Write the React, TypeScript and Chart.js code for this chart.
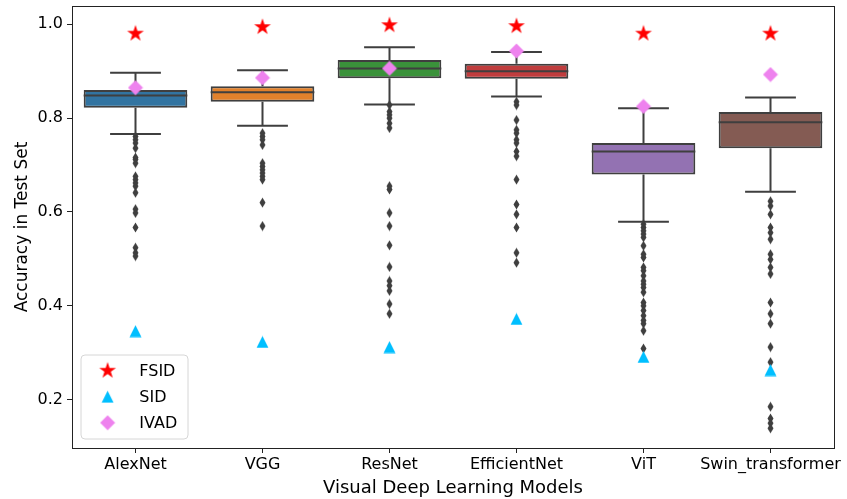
import React, { useEffect, useRef } from 'react';
import { Chart, registerables } from 'chart.js';

Chart.register(...registerables);

const CATEGORIES = ['AlexNet', 'VGG', 'ResNet', 'EfficientNet', 'ViT', 'Swin_transformer'];
const BOX_COLORS = ['#3274a1', '#e1812c', '#3a923a', '#c03d3e', '#9372b2', '#845b53'];
const Q1 = [0.822, 0.835, 0.885, 0.884, 0.680, 0.736];
const MEDIAN = [0.848, 0.855, 0.906, 0.900, 0.729, 0.791];
const Q3 = [0.860, 0.868, 0.924, 0.916, 0.747, 0.813];
const WHISKER_LOW = [0.766, 0.784, 0.829, 0.846, 0.579, 0.643];
const WHISKER_HIGH = [0.897, 0.902, 0.951, 0.941, 0.821, 0.844];
const FSID = [0.980, 0.994, 0.998, 0.996, 0.980, 0.980];
const SID = [0.346, 0.323, 0.312, 0.372, 0.291, 0.263];
const IVAD = [0.865, 0.886, 0.906, 0.943, 0.825, 0.893];

const OUTLIERS_ALEXNET = [0.761, 0.754, 0.747, 0.736, 0.716, 0.712, 0.704, 0.676, 0.669, 0.662, 0.655, 0.641, 0.606, 0.598, 0.567, 0.524, 0.513, 0.506];
const OUTLIERS_VGG = [0.768, 0.761, 0.754, 0.743, 0.704, 0.697, 0.690, 0.683, 0.676, 0.669, 0.620, 0.570];
const OUTLIERS_RESNET = [0.828, 0.814, 0.807, 0.800, 0.789, 0.779, 0.655, 0.648, 0.598, 0.570, 0.529, 0.483, 0.453, 0.443, 0.432, 0.404, 0.383];
const OUTLIERS_EFFICIENTNET = [0.835, 0.828, 0.796, 0.775, 0.768, 0.754, 0.747, 0.729, 0.719, 0.669, 0.616, 0.595, 0.567, 0.513, 0.492];
const OUTLIERS_VIT = [0.574, 0.567, 0.560, 0.553, 0.546, 0.528, 0.510, 0.503, 0.482, 0.475, 0.464, 0.453, 0.446, 0.439, 0.429, 0.407, 0.400, 0.390, 0.379, 0.369, 0.362, 0.347, 0.309];
const OUTLIERS_SWIN = [0.623, 0.613, 0.595, 0.567, 0.556, 0.542, 0.510, 0.499, 0.482, 0.468, 0.407, 0.383, 0.362, 0.312, 0.280, 0.185, 0.160, 0.150, 0.139];
const OUTLIERS = [OUTLIERS_ALEXNET, OUTLIERS_VGG, OUTLIERS_RESNET, OUTLIERS_EFFICIENTNET, OUTLIERS_VIT, OUTLIERS_SWIN];

const Y_TICKS = [0.2, 0.4, 0.6, 0.8, 1.0];
const Y_MIN = 0.097;
const Y_MAX = 1.039;

const LEGEND_LABELS = ['FSID', 'SID', 'IVAD'];

const EDGE = '#3f3f3f';
const FONT = "'DejaVu Sans', sans-serif";

function makeMarker(w: number, h: number, draw: (g: CanvasRenderingContext2D) => void) {
  const c = document.createElement('canvas');
  c.width = w;
  c.height = h;
  const g = c.getContext('2d')!;
  draw(g);
  return c;
}

function makeStar() {
  return makeMarker(20, 20, (g) => {
    const cx = 10, cy = 10, R = 8.8, r = 8.8 * 0.381966;
    g.beginPath();
    for (let k = 0; k < 10; k++) {
      const ang = -Math.PI / 2 + (k * Math.PI) / 5;
      const rad = k % 2 === 0 ? R : r;
      const px = cx + rad * Math.cos(ang);
      const py = cy + rad * Math.sin(ang);
      if (k === 0) g.moveTo(px, py); else g.lineTo(px, py);
    }
    g.closePath();
    g.fillStyle = '#ff0000';
    g.fill();
  });
}

function makeTriangle() {
  return makeMarker(13, 13, (g) => {
    g.beginPath();
    g.moveTo(6.5, 0.5);
    g.lineTo(12.5, 12.5);
    g.lineTo(0.5, 12.5);
    g.closePath();
    g.fillStyle = '#00bfff';
    g.fill();
  });
}

function makeDiamond() {
  return makeMarker(16, 16, (g) => {
    g.beginPath();
    g.moveTo(8, 0.5);
    g.lineTo(15.5, 8);
    g.lineTo(8, 15.5);
    g.lineTo(0.5, 8);
    g.closePath();
    g.fillStyle = '#ee82ee';
    g.fill();
  });
}

function makeThinDiamond() {
  return makeMarker(7, 11, (g) => {
    g.beginPath();
    g.moveTo(3.5, 0.5);
    g.lineTo(6.5, 5.5);
    g.lineTo(3.5, 10.5);
    g.lineTo(0.5, 5.5);
    g.closePath();
    g.fillStyle = EDGE;
    g.fill();
  });
}

export default function App() {
  const ref = useRef<HTMLCanvasElement | null>(null);

  useEffect(() => {
    if (!ref.current) return;
    const star = makeStar();
    const tri = makeTriangle();
    const dia = makeDiamond();
    const thin = makeThinDiamond();
    const legendMarkers = [star, tri, dia];

    const whiskerPlugin = {
      id: 'whiskers',
      afterDatasetDraw(chart: any, args: any) {
        if (args.index !== 0) return;
        const { ctx, scales } = chart;
        const y = scales.y;
        const meta = chart.getDatasetMeta(0);
        ctx.save();
        ctx.strokeStyle = EDGE;
        ctx.lineWidth = 2;
        CATEGORIES.forEach((_, i) => {
          const bar = meta.data[i];
          const cx = bar.x;
          const half = bar.width / 2;
          const capHalf = (bar.width - 2) / 4;
          const yq1 = y.getPixelForValue(Q1[i]);
          const yq3 = y.getPixelForValue(Q3[i]);
          const ylo = y.getPixelForValue(WHISKER_LOW[i]);
          const yhi = y.getPixelForValue(WHISKER_HIGH[i]);
          const ymed = y.getPixelForValue(MEDIAN[i]);
          ctx.beginPath();
          ctx.moveTo(cx, yq3);
          ctx.lineTo(cx, yhi);
          ctx.moveTo(cx - capHalf, yhi);
          ctx.lineTo(cx + capHalf, yhi);
          ctx.moveTo(cx, yq1);
          ctx.lineTo(cx, ylo);
          ctx.moveTo(cx - capHalf, ylo);
          ctx.lineTo(cx + capHalf, ylo);
          ctx.moveTo(cx - half, ymed);
          ctx.lineTo(cx + half, ymed);
          ctx.stroke();
        });
        ctx.restore();
      },
    };

    const framePlugin = {
      id: 'frameAndLegend',
      afterDraw(chart: any) {
        const { ctx, chartArea: ca } = chart;
        ctx.save();
        ctx.strokeStyle = '#222222';
        ctx.lineWidth = 1;
        ctx.strokeRect(Math.round(ca.left) + 0.5, Math.round(ca.top) + 0.5, Math.round(ca.right - ca.left), Math.round(ca.bottom - ca.top));

        // legend
        const bw = 107, bh = 84;
        const bx = ca.left + 9;
        const by = ca.bottom - 9 - bh;
        const r = 4;
        ctx.beginPath();
        ctx.moveTo(bx + r, by);
        ctx.lineTo(bx + bw - r, by);
        ctx.quadraticCurveTo(bx + bw, by, bx + bw, by + r);
        ctx.lineTo(bx + bw, by + bh - r);
        ctx.quadraticCurveTo(bx + bw, by + bh, bx + bw - r, by + bh);
        ctx.lineTo(bx + r, by + bh);
        ctx.quadraticCurveTo(bx, by + bh, bx, by + bh - r);
        ctx.lineTo(bx, by + r);
        ctx.quadraticCurveTo(bx, by, bx + r, by);
        ctx.closePath();
        ctx.fillStyle = 'rgba(255,255,255,0.8)';
        ctx.fill();
        ctx.strokeStyle = '#d6d6d6';
        ctx.stroke();
        ctx.font = `16px ${FONT}`;
        ctx.fillStyle = '#000';
        ctx.textBaseline = 'middle';
        ctx.textAlign = 'left';
        LEGEND_LABELS.forEach((lab, k) => {
          const cy = by + 15.7 + k * 26;
          const m = legendMarkers[k];
          ctx.drawImage(m, bx + 26.6 - m.width / 2, cy - m.height / 2);
          ctx.fillText(lab, bx + 58.3, cy + 1);
        });
        ctx.restore();
      },
    };

    const outlierData = CATEGORIES.flatMap((c, i) => OUTLIERS[i].map((v) => ({ x: c, y: v })));
    const pts = (arr: number[]) => CATEGORIES.map((c, i) => ({ x: c, y: arr[i] }));

    const chart = new Chart(ref.current, {
      type: 'bar',
      data: {
        labels: CATEGORIES,
        datasets: [
          {
            type: 'bar',
            label: 'box',
            data: CATEGORIES.map((_, i) => [Q1[i], Q3[i]]) as any,
            backgroundColor: BOX_COLORS,
            borderColor: EDGE,
            borderWidth: 2,
            borderSkipped: false,
            barPercentage: 0.816,
            categoryPercentage: 1,
            order: 10,
          } as any,
          {
            type: 'scatter',
            label: 'outliers',
            data: outlierData as any,
            pointStyle: thin as any,
            pointRadius: 5,
            order: 5,
          } as any,
          {
            type: 'scatter',
            label: 'SID',
            data: pts(SID) as any,
            pointStyle: tri as any,
            pointRadius: 5,
            order: 3,
          } as any,
          {
            type: 'scatter',
            label: 'IVAD',
            data: pts(IVAD) as any,
            pointStyle: dia as any,
            pointRadius: 5,
            order: 2,
          } as any,
          {
            type: 'scatter',
            label: 'FSID',
            data: pts(FSID) as any,
            pointStyle: star as any,
            pointRadius: 5,
            order: 1,
          } as any,
        ],
      },
      options: {
        animation: false,
        responsive: false,
        events: [],
        layout: { padding: { top: 4, right: 13, left: 0, bottom: 0 } },
        plugins: {
          legend: { display: false },
          tooltip: { enabled: false },
        },
        scales: {
          x: {
            type: 'category',
            offset: true,
            grid: { display: true, drawOnChartArea: false, drawTicks: true, tickLength: 5, color: '#222222', offset: false },
            border: { display: false },
            ticks: { font: { size: 16, family: FONT }, color: '#000', padding: 2, maxRotation: 0, autoSkip: false },
            title: { display: true, text: 'Visual Deep Learning Models', font: { size: 18, family: FONT }, color: '#000', padding: { top: 3, bottom: 0 } },
            afterFit(s: any) { s.height = 51; s.paddingLeft = 0; s.paddingRight = 0; },
          },
          y: {
            type: 'linear',
            min: Y_MIN,
            max: Y_MAX,
            afterBuildTicks(s: any) { s.ticks = Y_TICKS.map((v) => ({ value: v })); },
            ticks: { callback: (v: any) => Number(v).toFixed(1), font: { size: 16, family: FONT }, color: '#000', padding: 4 },
            grid: { display: true, drawOnChartArea: false, drawTicks: true, tickLength: 5, color: '#222222' },
            border: { display: false },
            title: { display: true, text: 'Accuracy in Test Set', font: { size: 17, family: FONT }, color: '#000', padding: { top: 12, bottom: 0 } },
            afterFit(s: any) { s.width = 72; s.paddingTop = 0; s.paddingBottom = 0; },
          },
        },
      } as any,
      plugins: [whiskerPlugin, framePlugin],
    });
    return () => chart.destroy();
  }, []);

  return (
    <div style={{ position: 'fixed', left: 0, top: 0, width: 847, height: 499, background: '#fff' }}>
      <canvas ref={ref} width={847} height={499} style={{ display: 'block' }} />
    </div>
  );
}
